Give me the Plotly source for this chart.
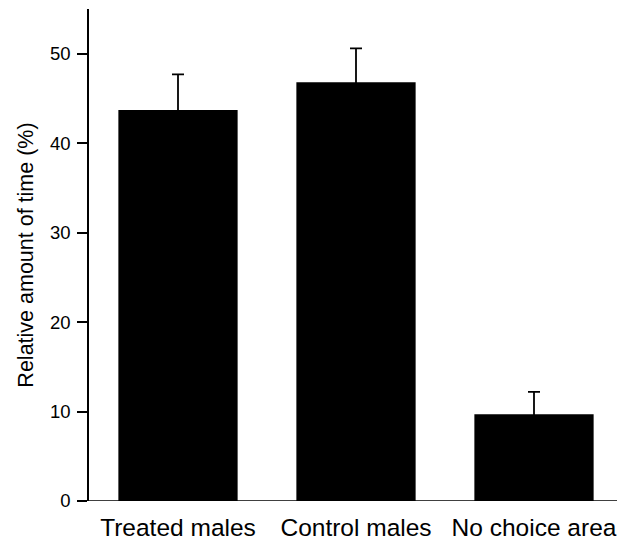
import plotly.graph_objects as go

categories = ["Treated males", "Control males", "No choice area"]
values = [43.7, 46.8, 9.7]
errors = [4.0, 3.8, 2.5]
y_ticks = [0, 10, 20, 30, 40, 50]

FONT = "Liberation Sans, Arial, sans-serif"

fig = go.Figure()
fig.add_trace(go.Bar(
    x=categories,
    y=values,
    width=0.67,
    marker=dict(color="black", line=dict(width=0)),
    error_y=dict(type="data", array=errors, symmetric=True,
                 color="black", thickness=1.8, width=6),
))

plot_w = 625 - 81 - 10
fig.add_shape(type="line", xref="paper", yref="y",
              x0=-10 / plot_w, x1=1, y0=0, y1=0,
              line=dict(color="black", width=1.6))

fig.update_layout(
    width=625, height=540,
    margin=dict(l=81, r=10, t=1, b=47),
    plot_bgcolor="white", paper_bgcolor="white",
    showlegend=False,
    font=dict(family=FONT, color="black"),
)
fig.update_xaxes(
    range=[-0.5, 2.5], showline=False, showgrid=False, zeroline=False,
    ticks="", tickfont=dict(size=24.5, family=FONT, color="black"),
    ticklabelstandoff=9,
)
fig.update_yaxes(
    range=[0, 55], showline=True, linecolor="black", linewidth=1.6,
    showgrid=False, zeroline=False,
    tickvals=y_ticks, ticktext=[str(v) for v in y_ticks],
    ticks="outside", ticklen=10, tickwidth=1.6, tickcolor="black",
    tickfont=dict(size=18.5, family=FONT, color="black"),
    ticklabelstandoff=3,
    title=dict(text="Relative amount of time (%)", font=dict(size=21.5, family=FONT, color="black"), standoff=10),
)

fig.write_html("out.html")
